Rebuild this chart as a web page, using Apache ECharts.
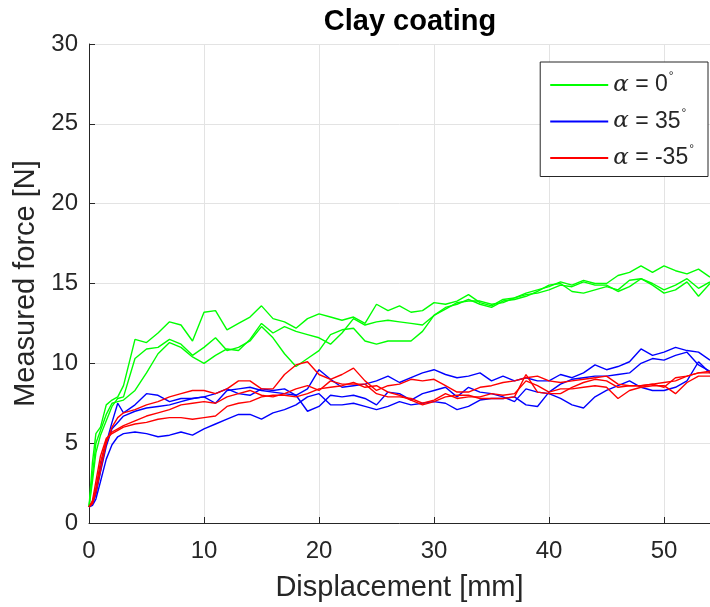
<!DOCTYPE html>
<html>
<head>
<meta charset="utf-8">
<script src="https://cdn.jsdelivr.net/npm/echarts@6/dist/echarts.min.js"></script>
<style>
  html, body { margin: 0; padding: 0; background: #fff; }
  #chart { width: 710px; height: 607px; }
</style>
</head>
<body>
<div id="chart"></div>
<script>
// displacement [mm]
var disp = [0, 0.3, 0.6, 1, 1.5, 2, 2.5, 3, 4, 5, 6, 7, 8, 9, 10, 11, 12, 13, 14, 15, 16, 17, 18, 19, 20,
  21, 22, 23, 24, 25, 26, 27, 28, 29, 30, 31, 32, 33, 34, 35, 36, 37, 38, 39, 40,
  41, 42, 43, 44, 45, 46, 47, 48, 49, 50, 51, 52, 53, 54];

// alpha = 0 (green)
var g1 = [1.0, 3.8, 5.6, 6.0, 7.4, 7.7, 7.9, 8.6, 11.5, 11.3, 11.9, 12.6, 12.4, 11.4, 13.2, 13.3, 12.1, 12.5, 12.9, 13.6, 12.8, 12.6, 12.2, 12.8, 13.1,
  12.9, 12.7, 12.9, 12.5, 13.7, 13.3, 13.6, 13.2, 13.3, 13.8, 13.7, 13.9, 14.3, 13.8, 13.6, 14.0, 14.1, 14.4, 14.6, 14.8,
  15.1, 14.9, 15.2, 15.0, 15.0, 15.5, 15.7, 16.1, 15.7, 16.1, 15.8, 15.6, 15.9, 15.4];
var g2 = [1.0, 2.6, 4.4, 5.5, 6.4, 7.3, 7.8, 7.9, 10.3, 10.9, 11.0, 11.5, 11.2, 10.5, 11.0, 11.6, 10.8, 11.0, 11.4, 12.3, 11.6, 10.6, 9.8, 10.3, 10.8,
  11.8, 12.1, 12.2, 11.4, 11.2, 11.4, 11.4, 11.4, 12.0, 13.0, 13.5, 13.7, 14.0, 13.7, 13.5, 13.9, 14.0, 14.2, 14.5, 14.9,
  15.0, 14.5, 14.4, 14.6, 14.8, 14.6, 15.2, 15.3, 14.9, 14.4, 14.6, 15.1, 14.2, 15.0];
var g3 = [1.0, 3.0, 5.0, 5.8, 6.8, 7.5, 7.6, 7.7, 8.3, 9.4, 10.6, 11.3, 11.0, 10.4, 10.0, 10.5, 10.9, 10.8, 11.5, 12.5, 11.9, 12.3, 12.0, 11.8, 11.6,
  11.2, 11.9, 12.8, 12.4, 12.6, 12.7, 12.6, 12.5, 12.4, 13.0, 13.4, 13.8, 13.9, 13.9, 13.7, 13.8, 14.1, 14.3, 14.4, 14.6,
  14.9, 14.8, 15.1, 14.9, 14.9, 14.5, 14.8, 15.3, 15.0, 14.6, 14.9, 15.3, 14.7, 15.1];

// alpha = 35 (blue)
var b1 = [1.0, 1.3, 2.0, 3.5, 5.0, 6.3, 7.5, 6.9, 7.4, 8.1, 8.0, 7.6, 7.8, 7.8, 7.9, 8.1, 8.4, 8.1, 8.0, 8.4, 8.3, 8.4, 8.0, 8.4, 9.6,
  9.0, 8.5, 8.6, 8.7, 8.9, 9.2, 8.8, 9.1, 9.4, 9.6, 9.3, 9.1, 9.2, 9.4, 8.9, 9.2, 8.9, 9.1, 8.9, 8.9,
  9.3, 9.1, 9.4, 9.9, 9.6, 9.8, 10.1, 10.9, 10.5, 10.7, 11.0, 10.8, 10.7, 10.2];
var b2 = [1.0, 1.2, 1.8, 3.2, 4.8, 5.9, 6.3, 6.7, 7.0, 7.2, 7.3, 7.4, 7.6, 7.8, 7.9, 7.5, 8.3, 8.4, 8.5, 8.3, 8.2, 8.1, 8.0, 7.0, 7.3,
  8.0, 7.9, 8.0, 7.8, 7.4, 8.2, 8.1, 7.7, 8.1, 8.3, 8.5, 7.9, 8.5, 8.2, 8.1, 7.9, 7.6, 8.4, 8.2, 8.1,
  7.8, 7.4, 7.2, 7.9, 8.3, 8.6, 8.9, 8.5, 8.3, 8.3, 8.5, 8.9, 10.1, 9.4];
var b3 = [1.0, 1.1, 1.5, 2.6, 4.0, 4.9, 5.4, 5.6, 5.7, 5.6, 5.4, 5.5, 5.7, 5.5, 5.9, 6.2, 6.5, 6.8, 6.8, 6.5, 6.9, 7.1, 7.4, 7.9, 8.1,
  7.4, 7.4, 7.5, 7.3, 7.1, 7.3, 7.6, 7.4, 7.5, 7.6, 7.5, 7.1, 7.3, 7.7, 7.8, 7.8, 7.9, 7.4, 7.3, 8.2,
  8.7, 9.0, 9.1, 9.2, 9.2, 9.3, 9.4, 10.0, 10.3, 10.2, 10.5, 10.7, 9.9, 9.5];

// alpha = -35 (red)
var r1 = [1.0, 1.2, 1.9, 3.3, 5.0, 6.0, 6.6, 6.9, 7.1, 7.4, 7.6, 7.9, 8.1, 8.3, 8.3, 8.1, 8.4, 8.9, 8.9, 8.4, 8.4, 9.3, 9.9, 10.1, 9.3,
  9.0, 9.3, 9.7, 8.9, 8.3, 8.6, 8.7, 9.0, 8.9, 9.0, 8.6, 8.2, 8.2, 8.5, 8.6, 8.8, 8.9, 9.1, 9.2, 8.9,
  8.8, 8.9, 9.0, 9.1, 9.2, 8.7, 8.6, 8.6, 8.7, 8.5, 9.1, 9.2, 9.4, 9.4];
var r2 = [1.0, 1.3, 2.2, 3.8, 5.2, 5.7, 5.9, 6.1, 6.4, 6.7, 6.9, 7.1, 7.4, 7.5, 7.6, 7.5, 7.9, 8.1, 8.3, 8.0, 7.9, 8.1, 8.4, 8.6, 8.3,
  8.9, 8.7, 8.7, 8.7, 8.1, 7.9, 7.9, 7.8, 7.5, 7.7, 8.1, 7.8, 7.9, 7.9, 8.1, 8.0, 8.1, 8.9, 8.6, 8.2,
  8.4, 8.4, 8.5, 8.6, 8.5, 7.8, 8.3, 8.5, 8.6, 8.6, 8.1, 8.8, 9.2, 9.2];
var r3 = [1.0, 1.4, 2.6, 4.2, 5.3, 5.6, 5.8, 6.0, 6.2, 6.3, 6.5, 6.6, 6.6, 6.5, 6.6, 6.7, 7.3, 7.5, 7.6, 7.9, 8.0, 8.0, 7.9, 8.1, 8.4,
  8.5, 8.6, 8.8, 8.5, 8.6, 8.2, 8.0, 7.7, 7.4, 7.6, 7.9, 8.0, 8.0, 7.8, 7.8, 7.8, 7.9, 9.3, 8.2, 8.1,
  8.1, 8.5, 8.8, 9.0, 8.9, 8.5, 8.6, 8.6, 8.7, 8.8, 8.9, 9.2, 9.4, 9.5];

var legendNames = ['a0', 'a35', 'am35'];
var legendLabels = { a0: '0', a35: '35', am35: '-35' };

var chart = echarts.init(document.getElementById('chart'));

function pairs(ys) {
  return disp.map(function (x, i) { return [x, ys[i]]; });
}

function line(name, color, ys) {
  return {
    name: name,
    type: 'line',
    data: pairs(ys),
    symbol: 'none',
    lineStyle: { color: color, width: 1.4 },
    itemStyle: { color: color },
    animation: false
  };
}

var font = 'Liberation Sans';

var option = {
  backgroundColor: '#fff',
  title: {
    text: 'Clay coating',
    left: 405,
    textAlign: 'center',
    top: 2,
    textStyle: { fontFamily: font, fontWeight: 'bold', fontSize: 29, color: '#000' }
  },
  grid: { left: 89, right: 0, top: 44, bottom: 84, outerBoundsMode: 'none' },
  legend: {
    data: legendNames,
    orient: 'vertical',
    right: 2,
    top: 62,
    padding: [9, 14, 7, 10],
    itemGap: 11,
    itemWidth: 58,
    itemHeight: 2,
    icon: 'rect',
    backgroundColor: '#fff',
    borderColor: '#262626',
    borderWidth: 1,
    borderRadius: 0,
    formatter: function (n) {
      return '{a|\u03b1}{t| = ' + legendLabels[n] + '}{d|\u00b0}';
    },
    textStyle: {
      fontFamily: font,
      fontSize: 22,
      color: '#262626',
      rich: {
        a: { fontFamily: 'DejaVu Serif', fontStyle: 'italic', fontSize: 23, color: '#262626' },
        t: { fontFamily: font, fontSize: 23, color: '#262626' },
        d: { fontFamily: font, fontSize: 12, color: '#262626', padding: [0, 0, 16, 1] }
      }
    }
  },
  xAxis: {
    type: 'value',
    min: 0,
    max: 54,
    interval: 10,
    name: 'Displacement [mm]',
    nameLocation: 'middle',
    nameGap: 50,
    nameTextStyle: { fontFamily: font, fontSize: 29, color: '#262626' },
    axisLine: { show: true, onZero: false, lineStyle: { color: '#262626', width: 1 } },
    axisTick: { show: true, inside: true, length: 6, lineStyle: { color: '#262626' } },
    axisLabel: { fontFamily: font, fontSize: 24, color: '#262626', margin: 16, showMaxLabel: false },
    splitLine: { show: true, lineStyle: { color: '#e3e3e3', width: 1 } }
  },
  yAxis: {
    type: 'value',
    min: 0,
    max: 30,
    interval: 5,
    name: 'Measured force [N]',
    nameLocation: 'middle',
    nameGap: 45,
    nameTextStyle: { fontFamily: font, fontSize: 29, color: '#262626' },
    axisLine: { show: true, lineStyle: { color: '#262626', width: 1 } },
    axisTick: { show: true, inside: true, length: 6, lineStyle: { color: '#262626' } },
    axisLabel: { fontFamily: font, fontSize: 24, color: '#262626', margin: 11 },
    splitLine: { show: true, lineStyle: { color: '#e3e3e3', width: 1 } }
  },
  series: [
    line('a0', '#00ff00', g1),
    line('a0', '#00ff00', g2),
    line('a0', '#00ff00', g3),
    line('a35', '#0000ff', b1),
    line('a35', '#0000ff', b2),
    line('a35', '#0000ff', b3),
    line('am35', '#ff0000', r1),
    line('am35', '#ff0000', r2),
    line('am35', '#ff0000', r3)
  ]
};

chart.setOption(option);
</script>
</body>
</html>
